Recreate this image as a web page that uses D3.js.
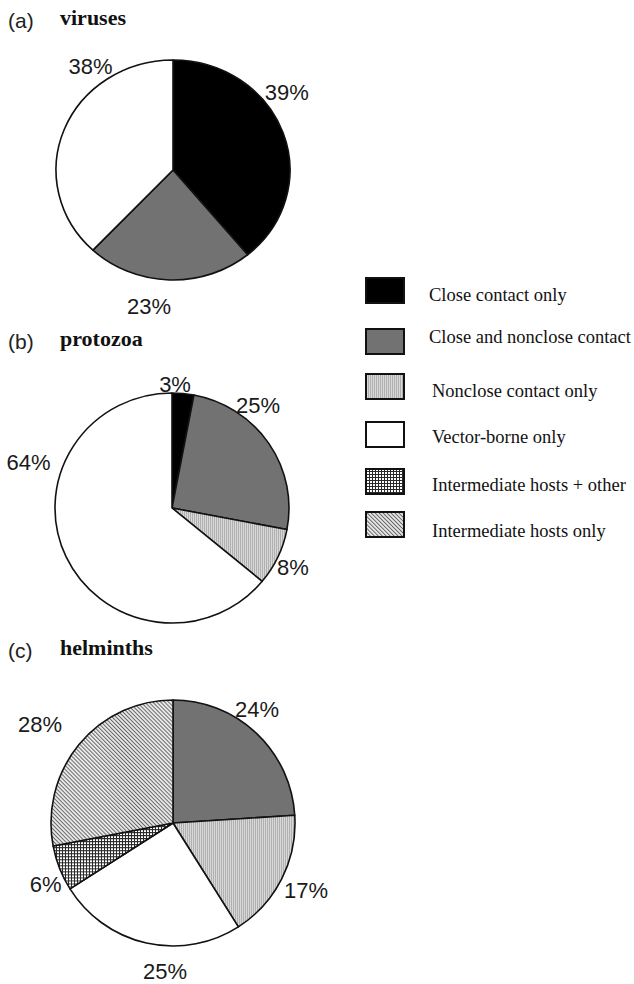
<!DOCTYPE html>
<html>
<head>
<meta charset="utf-8">
<script src="https://cdn.jsdelivr.net/npm/d3@7"></script>
<style>
  html, body { margin: 0; padding: 0; background: #fff; }
  svg { display: block; }
</style>
</head>
<body>
<svg id="chart" width="634" height="984"></svg>
<script>
// Transmission routes, in legend order
const categories = [
  "Close contact only",
  "Close and nonclose contact",
  "Nonclose contact only",
  "Vector-borne only",
  "Intermediate hosts + other",
  "Intermediate hosts only"
];

// Percent of pathogens in each route (same order as categories)
const virusesValues   = [39, 23, 0, 38, 0, 0];
const protozoaValues  = [3, 25, 8, 64, 0, 0];
const helminthsValues = [0, 24, 17, 25, 6, 28];

const panelLetters = ["(a)", "(b)", "(c)"];
const panelNames   = ["viruses", "protozoa", "helminths"];

// ---- layout (kept apart from the data) ----
const panelLayout = [
  { cx: 173, cy: 170, rx: 117, ry: 110, titleY: 28,
    labelAngle: [55.6, 190, 321.7], labelDist: [138, 138, 133] },
  { cx: 172, cy: 508, rx: 117, ry: 115, titleY: 349,
    labelAngle: [1.4, 39.9, 116, 287.8], labelDist: [124, 134, 134.6, 150.7] },
  { cx: 173, cy: 823, rx: 122, ry: 123, titleY: 658,
    labelAngle: [36.4, 116.7, 183.1, 244.4, 306.7], labelDist: [141.6, 149, 148.2, 141.3, 165.8] }
];

const svg = d3.select("#chart");
const defs = svg.append("defs");

// fill patterns
const stipple = defs.append("pattern").attr("id", "stipple")
  .attr("patternUnits", "userSpaceOnUse").attr("width", 2).attr("height", 2);
stipple.append("rect").attr("width", 2).attr("height", 2).attr("fill", "#d8d8d8");
stipple.append("rect").attr("width", 1).attr("height", 2).attr("fill", "#b0b0b0");

const cross = defs.append("pattern").attr("id", "cross")
  .attr("patternUnits", "userSpaceOnUse").attr("width", 3).attr("height", 3);
cross.append("rect").attr("width", 3).attr("height", 3).attr("fill", "#ffffff");
cross.append("rect").attr("width", 3).attr("height", 1).attr("fill", "#2a2a2a");
cross.append("rect").attr("width", 1).attr("height", 3).attr("fill", "#2a2a2a");

const diag = defs.append("pattern").attr("id", "diag")
  .attr("patternUnits", "userSpaceOnUse").attr("width", 2.8).attr("height", 3)
  .attr("patternTransform", "rotate(-45)");
diag.append("rect").attr("width", 2.8).attr("height", 3).attr("fill", "#ececec");
diag.append("rect").attr("width", 1).attr("height", 3).attr("fill", "#666666");

const fillScale = d3.scaleOrdinal()
  .domain(categories)
  .range(["#000000", "#727272", "url(#stipple)", "#ffffff", "url(#cross)", "url(#diag)"]);

const pie = d3.pie().sort(null).value(d => d.value);
const allValues = [virusesValues, protozoaValues, helminthsValues];

allValues.forEach((vals, i) => {
  const L = panelLayout[i];
  const data = categories.map((c, k) => ({ category: c, value: vals[k] }));
  const arcs = pie(data).filter(a => a.data.value > 0);
  const arc = d3.arc().innerRadius(0).outerRadius(L.rx);

  // panel heading
  svg.append("text")
    .attr("x", 8).attr("y", L.titleY)
    .attr("font-family", "'Liberation Sans', Arial, sans-serif")
    .attr("font-size", 21).attr("fill", "#222")
    .text(panelLetters[i]);
  svg.append("text")
    .attr("x", 60).attr("y", L.titleY - 3)
    .attr("font-family", "'Liberation Serif', 'Times New Roman', serif")
    .attr("font-weight", "bold")
    .attr("font-size", 22).attr("fill", "#111")
    .text(panelNames[i]);

  // slices (circle squashed to the panel's ellipse)
  const g = svg.append("g")
    .attr("transform", `translate(${L.cx},${L.cy}) scale(1,${L.ry / L.rx})`);
  g.selectAll("path").data(arcs).join("path")
    .attr("d", arc)
    .attr("fill", d => fillScale(d.data.category))
    .attr("stroke", "#111")
    .attr("stroke-width", 1.6)
    .attr("stroke-linejoin", "round")
    .attr("vector-effect", "non-scaling-stroke");

  // percentage labels
  svg.append("g").selectAll("text").data(arcs).join("text")
    .attr("x", (d, k) => L.cx + L.labelDist[k] * Math.sin(L.labelAngle[k] * Math.PI / 180))
    .attr("y", (d, k) => L.cy - L.labelDist[k] * Math.cos(L.labelAngle[k] * Math.PI / 180))
    .attr("dy", "0.36em")
    .attr("text-anchor", "middle")
    .attr("font-family", "'Liberation Sans', Arial, sans-serif")
    .attr("font-size", 22).attr("fill", "#1a1a1a")
    .text(d => d.data.value + "%");
});

// legend
const legendBoxY  = [278, 329, 374, 422, 469, 512];
const legendTextY = [301, 343, 397, 443, 491, 537];
const legendTextX = [429, 429, 432, 432, 432, 432];
const legend = svg.append("g");
categories.forEach((c, k) => {
  legend.append("rect")
    .attr("x", 366).attr("y", legendBoxY[k])
    .attr("width", 38).attr("height", 25)
    .attr("fill", fillScale(c))
    .attr("stroke", "#111").attr("stroke-width", 2);
  legend.append("text")
    .attr("x", legendTextX[k]).attr("y", legendTextY[k])
    .attr("font-family", "'Liberation Serif', 'Times New Roman', serif")
    .attr("font-size", 18.5).attr("fill", "#111")
    .text(c);
});
</script>
</body>
</html>
